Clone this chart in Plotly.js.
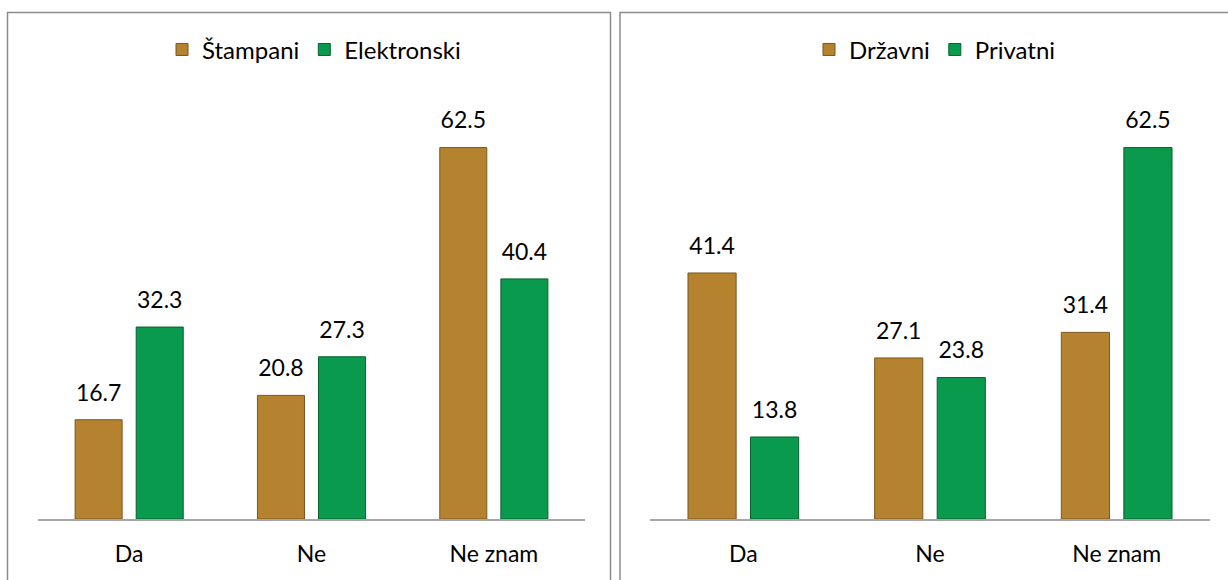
<!DOCTYPE html>
<html>
<head>
<meta charset="utf-8">
<script src="https://cdn.plot.ly/plotly-3.0.1.min.js"></script>
<style>html,body{margin:0;padding:0;background:#fff;}#chart{width:1228px;height:580px;}</style>
</head>
<body>
<div id="chart"></div>
<script>
const categories = ["Da", "Ne", "Ne znam"];
const stampani = [16.7, 20.8, 62.5];
const elektronski = [32.3, 27.3, 40.4];
const drzavni = [41.4, 27.1, 31.4];
const privatni = [13.8, 23.8, 62.5];
const seriesNamesLeft = ["Štampani", "Elektronski"];
const seriesNamesRight = ["Državni", "Privatni"];

const gold = "#B5822F";
const green = "#0A9A4E";
const font = "Lato, 'Open Sans', sans-serif";

function barTrace(name, vals, color, xa, ya, leg, grp) {
  return {
    type: "bar", name: name, x: categories, y: vals,
    xaxis: xa, yaxis: ya, legend: leg, offsetgroup: grp, alignmentgroup: xa,
    marker: {color: color, line: {color: color === gold ? "#7A5720" : "#06602F", width: 1}},
    hoverinfo: "x+y"
  };
}
function labelTrace(vals, xa, ya, grp) {
  return {
    type: "scatter", mode: "markers+text", x: categories, y: vals,
    xaxis: xa, yaxis: ya, offsetgroup: grp, alignmentgroup: xa,
    marker: {size: 20, opacity: 0},
    text: vals.map(v => v.toFixed(1)), textposition: "top center",
    textfont: {family: font, size: 23, color: "#000"},
    cliponaxis: false, showlegend: false, hoverinfo: "skip"
  };
}

const data = [
  barTrace(seriesNamesLeft[0], stampani, gold, "x", "y", "legend", "a"),
  barTrace(seriesNamesLeft[1], elektronski, green, "x", "y", "legend", "b"),
  barTrace(seriesNamesRight[0], drzavni, gold, "x2", "y2", "legend2", "a"),
  barTrace(seriesNamesRight[1], privatni, green, "x2", "y2", "legend2", "b"),
  labelTrace(stampani, "x", "y", "a"),
  labelTrace(elektronski, "x", "y", "b"),
  labelTrace(drzavni, "x2", "y2", "a"),
  labelTrace(privatni, "x2", "y2", "b")
];

const xCommon = {
  showline: true, linecolor: "#A6A6A6", linewidth: 1.5, ticks: "", showgrid: false,
  tickfont: {family: font, size: 23, color: "#000"}, ticklabelstandoff: 14, fixedrange: true
};
const yCommon = {range: [0, 70], visible: false, showgrid: false, zeroline: false, fixedrange: true};
const legCommon = {
  orientation: "h", xanchor: "center", yanchor: "middle", y: 0.914,
  font: {family: font, size: 24, color: "#000"}, itemwidth: 30, traceorder: "normal",
  bgcolor: "rgba(0,0,0,0)"
};

const layout = {
  width: 1228, height: 580,
  margin: {l: 0, r: 0, t: 0, b: 0},
  paper_bgcolor: "#fff", plot_bgcolor: "#fff",
  barmode: "group", bargap: 0.33, bargroupgap: 0.23,
  scattermode: "group", scattergap: 0.33,
  showlegend: true,
  xaxis: Object.assign({}, xCommon, {domain: [38/1228, 585/1228], anchor: "y"}),
  yaxis: Object.assign({}, yCommon, {domain: [61/580, 477/580], anchor: "x"}),
  xaxis2: Object.assign({}, xCommon, {domain: [650/1228, 1210/1228], anchor: "y2"}),
  yaxis2: Object.assign({}, yCommon, {domain: [61/580, 477/580], anchor: "x2"}),
  legend: Object.assign({}, legCommon, {x: 314/1228}),
  legend2: Object.assign({}, legCommon, {x: 935/1228}),
  shapes: [
    {type: "rect", xref: "paper", yref: "paper", x0: 7.5/1228, x1: 610.5/1228, y0: -0.02, y1: (580-12.5)/580,
     line: {color: "#8C8C8C", width: 1.5}},
    {type: "rect", xref: "paper", yref: "paper", x0: 620/1228, x1: 1.01, y0: -0.02, y1: (580-12.5)/580,
     line: {color: "#8C8C8C", width: 1.5}}
  ]
};

Plotly.newPlot("chart", data, layout, {displayModeBar: false, staticPlot: true});
</script>
</body>
</html>
